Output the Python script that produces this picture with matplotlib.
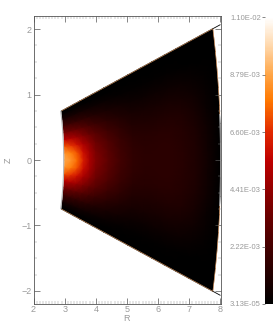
import numpy as np
import matplotlib
matplotlib.use('Agg')
import matplotlib.pyplot as plt
from matplotlib.colors import LinearSegmentedColormap

# radius and half-angle (deg) nodes of the wedge
radius = [3.0, 3.2, 3.4, 3.6, 3.8, 4.0, 4.4, 4.8, 5.2, 5.6, 6.0, 6.4, 6.8, 7.2, 7.6, 8.0]
angle = [0, 2, 4, 6, 8, 10, 12, 13.5, 14.5]

# field values, in units of 1e-3
row_0 = [8.8, 8.4, 7.6, 6.3, 5.0, 4.0, 3.0, 2.1, 1.55, 1.4, 1.4, 1.4, 1.25, 1.0, 0.55, 0.05]
row_2 = [8.4, 8.0, 7.2, 5.9, 4.8, 3.8, 2.85, 2.0, 1.5, 1.35, 1.38, 1.38, 1.22, 0.98, 0.52, 0.05]
row_4 = [7.3, 6.8, 6.0, 5.0, 4.2, 3.4, 2.55, 1.8, 1.35, 1.25, 1.28, 1.3, 1.15, 0.9, 0.46, 0.04]
row_6 = [5.5, 5.1, 4.6, 3.9, 3.3, 2.8, 2.0, 1.45, 1.1, 1.0, 1.05, 1.08, 0.98, 0.75, 0.36, 0.03]
row_8 = [3.7, 3.4, 3.1, 2.7, 2.3, 1.9, 1.4, 1.05, 0.8, 0.72, 0.75, 0.78, 0.7, 0.52, 0.25, 0.02]
row_10 = [2.1, 1.9, 1.7, 1.5, 1.3, 1.1, 0.8, 0.6, 0.45, 0.4, 0.42, 0.43, 0.38, 0.28, 0.13, 0.02]
row_12 = [0.85, 0.8, 0.7, 0.6, 0.5, 0.42, 0.3, 0.2, 0.15, 0.12, 0.12, 0.12, 0.1, 0.07, 0.04, 0.01]
row_13 = [0.2, 0.18, 0.15, 0.12, 0.1, 0.08, 0.05, 0.04, 0.03, 0.03, 0.03, 0.03, 0.03, 0.03, 0.03, 0.03]
row_14 = [0.03, 0.03, 0.03, 0.03, 0.03, 0.03, 0.03, 0.03, 0.03, 0.03, 0.03, 0.03, 0.03, 0.03, 0.03, 0.03]

cbar_ticks = [3.13e-5, 2.22e-3, 4.41e-3, 6.60e-3, 8.79e-3, 1.10e-2]
cbar_labels = ['3.13E-05', '2.22E-03', '4.41E-03', '6.60E-03', '8.79E-03', '1.10E-02']
x_ticks = [2, 3, 4, 5, 6, 7, 8]
y_ticks = [-2, -1, 0, 1, 2]

GREY = '#555555'
TXT = '#999999'
W, H = 276, 331

plt.rcParams['font.family'] = ['Liberation Sans', 'DejaVu Sans']
cmap = LinearSegmentedColormap.from_list('hot_red', [
    (0.0, (0, 0, 0)), (0.29, (100/255, 0, 0)), (0.5, (190/255, 0, 0)),
    (0.6, (225/255, 40/255, 0)), (0.71, (1, 120/255, 0)),
    (0.8, (1, 165/255, 70/255)), (0.9, (1, 215/255, 170/255)), (1.0, (1, 1, 1))])

fig = plt.figure(figsize=(W/100, H/100), dpi=100)
ax = fig.add_axes([33.5/W, 1-304/H, (220.5-33.5)/W, (304-16)/H])

half = np.array([row_0, row_2, row_4, row_6, row_8, row_10, row_12, row_13, row_14])
vals = np.vstack([half[:0:-1], half]) * 1e-3
th = np.radians(np.concatenate([-np.array(angle[:0:-1]), angle]))
rr, tt = np.meshgrid(radius, th)
mesh = ax.pcolormesh(rr*np.cos(tt), rr*np.sin(tt), vals, shading='gouraud', cmap=cmap,
                     vmin=cbar_ticks[0], vmax=cbar_ticks[-1], rasterized=True)

# wedge outline
edge = np.radians(angle[-1])
for s in [1, -1]:
    ax.plot([3*np.cos(edge), 8*np.cos(edge)], [s*3*np.sin(edge), s*8*np.sin(edge)],
            color='#ffb070', lw=0.35)
    ax.plot([8*np.cos(edge), 8.25*np.cos(edge)], [s*8*np.sin(edge), s*8.25*np.sin(edge)],
            color='black', lw=0.6)
    arc = np.radians(np.linspace(5, angle[-1], 30))
    ax.plot(8.01*np.cos(arc), s*8.01*np.sin(arc), color='#ffb070', lw=0.4)
arc = np.radians(np.linspace(-5, 5, 20))
ax.plot(8*np.cos(arc), 8*np.sin(arc), color='#aaaaaa', lw=0.6)
arc = np.radians(np.linspace(-angle[-1], angle[-1], 60))
ax.plot(2.97*np.cos(arc), 2.97*np.sin(arc), color='#b5b5b5', lw=0.8)

ax.set_xlim(2, 8)
ax.set_ylim(-2.2, 2.2)
ax.set_xticks(x_ticks)
ax.set_yticks(y_ticks)
ax.set_xticks(np.arange(2, 8.01, 0.1), minor=True)
ax.set_yticks(np.arange(-2, 2.01, 0.25), minor=True)
ax.set_yticklabels(['\u22122', '\u22121', '0', '1', '2'])
ax.tick_params(which='major', direction='in', length=4, width=0.5, color=GREY,
               labelsize=6.5, labelcolor=TXT, top=True, right=True, pad=1.5)
ax.tick_params(which='minor', direction='in', length=2, width=0.3, color='#888888',
               top=True, right=True)
ax.tick_params(axis='x', which='major', pad=0.5)
for sp in ax.spines.values():
    sp.set_linewidth(0.6)
    sp.set_color(GREY)
ax.set_xlabel('R', fontsize=6.5, color=TXT, labelpad=0)
ax.set_ylabel('Z', fontsize=6.5, color=TXT, labelpad=6)

cax = fig.add_axes([265/W, 1-304/H, 8/W, (304-17)/H])
cb = fig.colorbar(mesh, cax=cax, ticks=cbar_ticks)
cb.ax.yaxis.set_ticks_position('left')
cb.ax.set_yticklabels(cbar_labels)
cb.ax.tick_params(length=2, width=0.5, color=GREY, labelsize=5.5, labelcolor=TXT, pad=1)
cb.outline.set_visible(False)

fig.savefig('out.png', dpi=100)
plt.close(fig)
